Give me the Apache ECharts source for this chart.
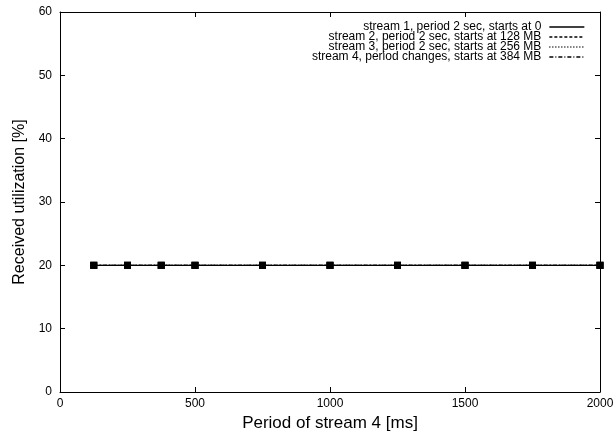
<!DOCTYPE html>
<html><head><meta charset="utf-8">
<script src="https://cdn.jsdelivr.net/npm/echarts@6/dist/echarts.min.js"></script>
<style>html,body{margin:0;padding:0;background:#fff}#c{width:613px;height:435px}</style>
</head><body><div id="c"></div>
<script>
const periods = [125, 250, 375, 500, 750, 1000, 1250, 1500, 1750, 2000];
const stream1 = [20, 20, 20, 20, 20, 20, 20, 20, 20, 20];
const stream2 = [20, 20, 20, 20, 20, 20, 20, 20, 20, 20];
const stream3 = [20, 20, 20, 20, 20, 20, 20, 20, 20, 20];
const stream4 = [20, 20, 20, 20, 20, 20, 20, 20, 20, 20];
const names = [
  'stream 1, period 2 sec, starts at 0',
  'stream 2, period 2 sec, starts at 128 MB',
  'stream 3, period 2 sec, starts at 256 MB',
  'stream 4, period changes, starts at 384 MB'
];
const xTicks = [0, 500, 1000, 1500, 2000];
const yTicks = [0, 10, 20, 30, 40, 50, 60];

const font = 'Liberation Sans, Arial, Helvetica, sans-serif';
const dashes = ['solid', [3, 2], [1, 2], [4, 2, 1, 2]];
const all = [stream1, stream2, stream3, stream4];
const pair = d => periods.map((p, i) => [p, d[i]]);

const lineSeries = all.map((d, i) => ({
  name: names[i], type: 'line', data: pair(d), symbol: 'none',
  lineStyle: { color: '#000', width: 1.2, type: dashes[i] },
  itemStyle: { color: '#000' }, z: 3
}));
const markSeries = all.map((d, i) => ({
  type: 'scatter', data: pair(d), symbol: 'rect', symbolSize: 7,
  itemStyle: { color: '#000' }, z: 4, silent: true
}));

const common = {
  axisLine: { show: true, onZero: false, lineStyle: { color: '#000', width: 1 } },
  axisTick: { show: true, inside: true, length: 5, lineStyle: { color: '#000' } },
  splitLine: { show: false }
};

const chart = echarts.init(document.getElementById('c'));
chart.setOption({
  animation: false,
  backgroundColor: '#fff',
  grid: { left: 60, right: 13, top: 12, bottom: 43, outerBoundsMode: 'none', containLabel: false },
  legend: {
    data: names, orient: 'vertical', right: 28, top: 21, align: 'right',
    itemWidth: 35, itemHeight: 10, itemGap: -2,
    itemStyle: { opacity: 0 },
    lineStyle: { width: 1.3, color: '#000' },
    textStyle: { fontFamily: font, fontSize: 12, lineHeight: 10, color: '#000', padding: [0, 3, 0, 0] },
    padding: 0
  },
  xAxis: [
    Object.assign({}, common, {
      type: 'value', min: 0, max: 2000, interval: 500, position: 'bottom',
      name: 'Period of stream 4 [ms]', nameLocation: 'middle', nameGap: 22,
      nameTextStyle: { fontFamily: font, fontSize: 17, color: '#000' },
      axisLabel: { fontFamily: font, fontSize: 12, color: '#000', margin: 6,
        formatter: v => xTicks.includes(v) ? String(v) : '' }
    }),
    Object.assign({}, common, {
      type: 'value', min: 0, max: 2000, interval: 500, position: 'top',
      axisLabel: { show: false }
    })
  ],
  yAxis: [
    Object.assign({}, common, {
      type: 'value', min: 0, max: 60, interval: 10, position: 'left',
      name: 'Received utilization [%]', nameLocation: 'middle', nameGap: 32,
      nameTextStyle: { fontFamily: font, fontSize: 16, color: '#000' },
      axisLabel: { fontFamily: font, fontSize: 12, color: '#000', margin: 8,
        formatter: v => yTicks.includes(v) ? String(v) : '' }
    }),
    Object.assign({}, common, {
      type: 'value', min: 0, max: 60, interval: 10, position: 'right',
      axisLabel: { show: false }
    })
  ],
  series: lineSeries.concat(markSeries)
});
</script></body></html>
